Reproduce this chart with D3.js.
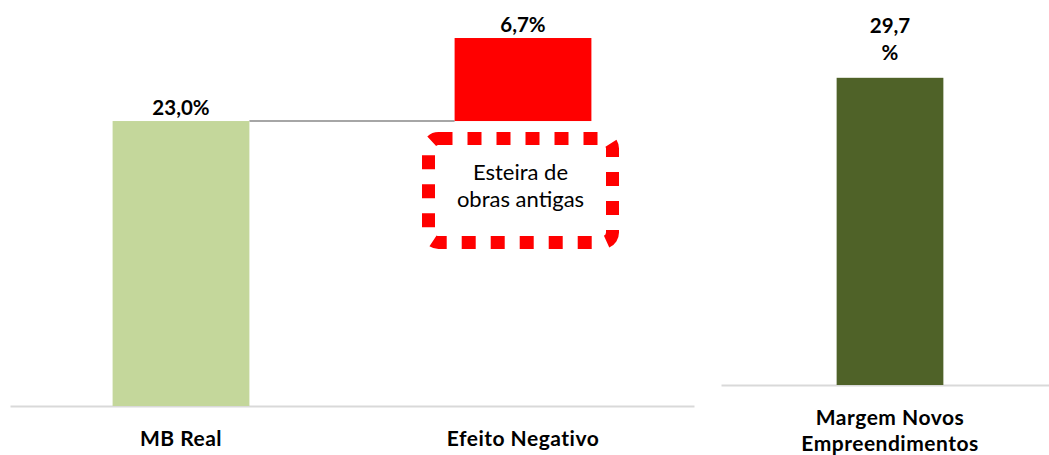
<!DOCTYPE html>
<html><head><meta charset="utf-8">
<script src="https://cdn.jsdelivr.net/npm/d3@7"></script>
<style>
html,body{margin:0;padding:0;background:#fff;}
svg{display:block;font-family:Lato,"Open Sans",sans-serif;}
</style></head>
<body>
<svg id="c" width="1049" height="455"></svg>
<script>
// Left waterfall chart
const categoriesLeft = ["MB Real", "Efeito Negativo"];
const valuesLeft = [23.0, 6.7];
const labelsLeft = ["23,0%", "6,7%"];
const colorsLeft = ["#C4D79B", "#FF0000"];
// Right chart
const categoriesRight = [["Margem Novos", "Empreendimentos"]];
const valuesRight = [29.7];
const labelsRight = [["29,7", "%"]];
const annotationLines = ["Esteira de", "obras antigas"];

const svg = d3.select("#c");

// ---- left chart ----
const xL = d3.scaleBand().domain(categoriesLeft).range([10, 694]).paddingInner(0.6).paddingOuter(0.3);
const yL = d3.scaleLinear().domain([0, 30]).range([406, 34.3]);
let cum = 0;
const leftData = valuesLeft.map((v, i) => { const d = {cat: categoriesLeft[i], y0: cum, y1: cum + v, label: labelsLeft[i], color: colorsLeft[i]}; cum += v; return d; });

// axis
const axL = svg.append("g").attr("transform", `translate(0,${yL(0)})`).call(d3.axisBottom(xL).tickSize(0).tickPadding(0));
axL.select(".domain").attr("stroke", "#D9D9D9").attr("stroke-width", 2);
axL.selectAll(".tick text").remove();

// connector
svg.append("line")
  .attr("x1", xL(categoriesLeft[0]) + xL.bandwidth()).attr("x2", xL(categoriesLeft[1]))
  .attr("y1", yL(leftData[0].y1)).attr("y2", yL(leftData[0].y1))
  .attr("stroke", "#A6A6A6").attr("stroke-width", 2);

svg.selectAll("rect.barL").data(leftData).join("rect").attr("class", "barL")
  .attr("x", d => xL(d.cat)).attr("width", xL.bandwidth())
  .attr("y", d => yL(d.y1)).attr("height", d => yL(d.y0) - yL(d.y1))
  .attr("fill", d => d.color);

svg.selectAll("text.valL").data(leftData).join("text").attr("class", "valL")
  .attr("x", d => xL(d.cat) + xL.bandwidth() / 2).attr("y", d => yL(d.y1) - 6)
  .attr("text-anchor", "middle").attr("font-weight", "bold").attr("font-size", 20.5).attr("fill", "#000")
  .text(d => d.label);

svg.selectAll("text.catL").data(categoriesLeft).join("text").attr("class", "catL")
  .attr("x", d => xL(d) + xL.bandwidth() / 2).attr("y", 446)
  .attr("text-anchor", "middle").attr("font-weight", "bold").attr("font-size", 21).attr("letter-spacing", 0.5).attr("fill", "#000")
  .text(d => d);

// annotation box
const cx = xL(categoriesLeft[1]) + xL.bandwidth() / 2 - 2.5;
const boxW = 184, boxH = 104, boxTop = 138.5;
svg.append("rect").attr("x", cx - boxW / 2).attr("y", boxTop).attr("width", boxW).attr("height", boxH)
  .attr("rx", 10).attr("ry", 10).attr("fill", "none").attr("stroke", "#FF0000")
  .attr("stroke-width", 13).attr("stroke-dasharray", "14 15");
svg.selectAll("text.ann").data(annotationLines).join("text").attr("class", "ann")
  .attr("x", cx).attr("y", (d, i) => 180 + i * 27)
  .attr("text-anchor", "middle").attr("font-size", 22).attr("fill", "#000").text(d => d);

// ---- right chart ----
const catR = categoriesRight.map(d => d.join(" "));
const xR = d3.scaleBand().domain(catR).range([721, 1059]).padding(0.52);
const yR = d3.scaleLinear().domain([0, 30]).range([385, 74.7]);
const axR = svg.append("g").attr("transform", `translate(0,${yR(0)})`).call(d3.axisBottom(xR).tickSize(0).tickPadding(0));
axR.select(".domain").attr("stroke", "#D9D9D9").attr("stroke-width", 2);
axR.selectAll(".tick text").remove();

svg.selectAll("rect.barR").data(valuesRight).join("rect").attr("class", "barR")
  .attr("x", (d, i) => xR(catR[i])).attr("width", xR.bandwidth())
  .attr("y", d => yR(d)).attr("height", d => yR(0) - yR(d)).attr("fill", "#4F6228");

valuesRight.forEach((v, i) => {
  const t = svg.append("text").attr("text-anchor", "middle").attr("font-weight", "bold").attr("font-size", 20.5).attr("fill", "#000");
  labelsRight[i].forEach((s, j) => t.append("tspan").attr("x", xR(catR[i]) + xR.bandwidth() / 2).attr("y", 33 + j * 27).text(s));
  const c = svg.append("text").attr("text-anchor", "middle").attr("font-weight", "bold").attr("font-size", 21).attr("letter-spacing", 0.5).attr("fill", "#000");
  categoriesRight[i].forEach((s, j) => c.append("tspan").attr("x", xR(catR[i]) + xR.bandwidth() / 2).attr("y", 425 + j * 26).text(s));
});
</script>
</body></html>
